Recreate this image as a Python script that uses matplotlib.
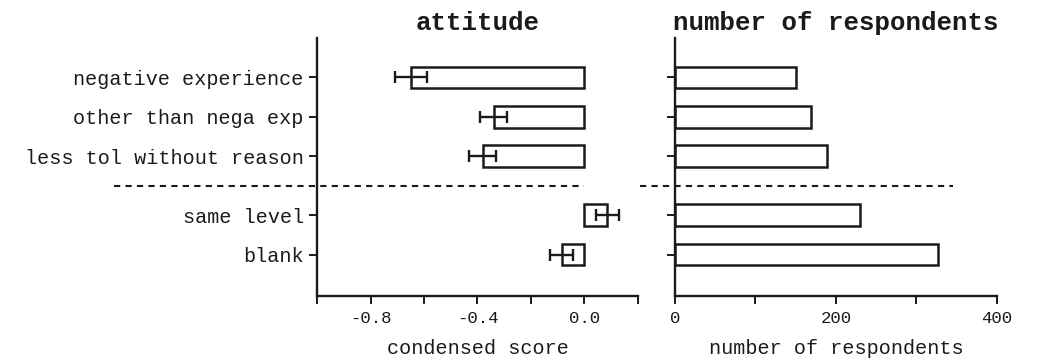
import numpy as np
import matplotlib
matplotlib.use("Agg")
import matplotlib.pyplot as plt

categories = ["negative experience", "other than nega exp", "less tol without reason",
              "same level", "blank"]
ypos = [0, 1, 2, 3.5, 4.5]
score = [-0.65, -0.34, -0.38, 0.085, -0.085]
score_err = [0.06, 0.05, 0.05, 0.043, 0.043]
respondents = [150, 169, 189, 230, 327]

plt.rcParams["font.family"] = ["Liberation Mono", "DejaVu Sans Mono"]
INK = "#1a1a1a"

fig = plt.figure(figsize=(10.37, 3.64), dpi=100)
ax1 = fig.add_axes([0.3057, 0.1868, 0.3095, 0.7088])
ax2 = fig.add_axes([0.6509, 0.1868, 0.3105, 0.7088])

for ax in (ax1, ax2):
    for s in ("top", "right"):
        ax.spines[s].set_visible(False)
    for s in ("left", "bottom"):
        ax.spines[s].set_linewidth(1.7)
        ax.spines[s].set_color(INK)
    ax.set_ylim(5.55, -1.0)
    ax.set_yticks(ypos)
    ax.tick_params(axis="both", which="both", direction="out", length=6,
                   width=1.4, color=INK, labelcolor=INK)
    ax.tick_params(axis="x", labelsize=12.5, pad=5)

# left panel: condensed score
ax1.barh(ypos, score, height=0.55, color="white", edgecolor=INK, linewidth=1.8)
ax1.errorbar(score, ypos, xerr=score_err, fmt="none", ecolor=INK,
             elinewidth=1.7, capsize=4, capthick=1.7)
ax1.set_xlim(-1.0, 0.2)
ax1.set_xticks([-0.8, -0.4, 0.0])
ax1.set_xticklabels(["-0.8", "-0.4", "0.0"])
ax1.set_xticks([-1.0, -0.6, -0.2, 0.2], minor=True)
ax1.set_yticklabels(categories, fontsize=14.5)
ax1.set_title("attitude", fontsize=18.5, fontweight="bold", color=INK, pad=6)
ax1.set_xlabel("condensed score", fontsize=14.5, color=INK, labelpad=9)
ax1.plot([-1.76, 0.0], [2.75, 2.75], ls=(0, (3, 2.5)), color=INK, lw=1.5, clip_on=False)

# right panel: number of respondents
ax2.barh(ypos, respondents, height=0.55, color="white", edgecolor=INK, linewidth=1.8)
ax2.set_xlim(0, 400)
ax2.set_xticks([0, 200, 400])
ax2.set_xticks([100, 300], minor=True)
ax2.set_yticklabels([])
ax2.set_title("number of respondents", fontsize=18.5, fontweight="bold", color=INK, pad=6)
ax2.set_xlabel("number of respondents", fontsize=14.5, color=INK, labelpad=9)
ax2.plot([-43, 345], [2.75, 2.75], ls=(0, (3, 2.5)), color=INK, lw=1.5, clip_on=False)

fig.savefig("out.png", dpi=100)
